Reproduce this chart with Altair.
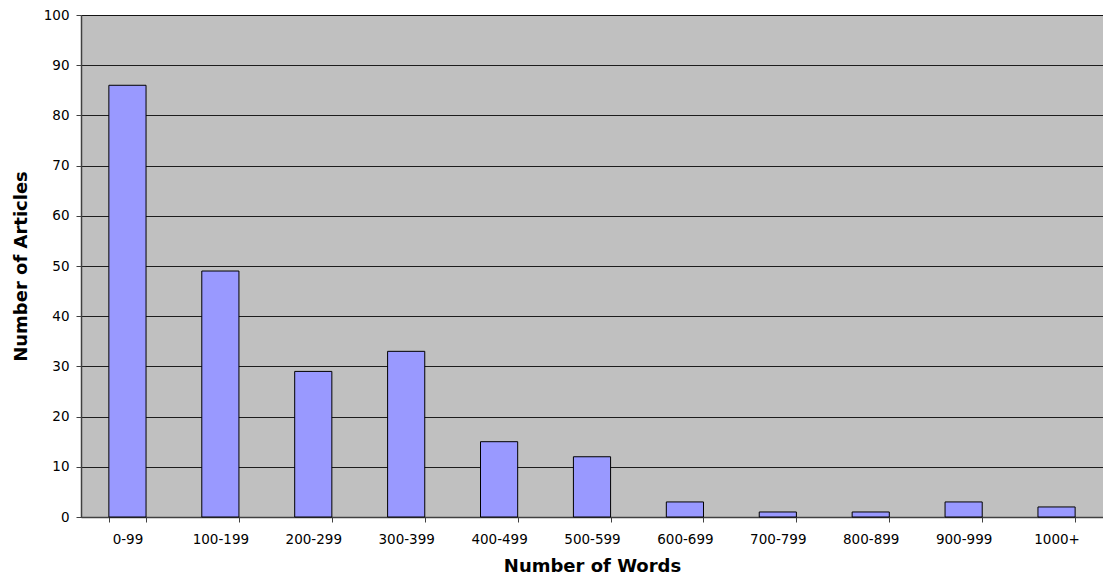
import altair as alt
import pandas as pd

categories = ["0-99", "100-199", "200-299", "300-399", "400-499", "500-599",
              "600-699", "700-799", "800-899", "900-999", "1000+"]
articles = [86, 49, 29, 33, 15, 12, 3, 1, 1, 3, 2]

df = pd.DataFrame({"words": categories, "articles": articles})

FONT = "DejaVu Sans"

chart = alt.Chart(df).mark_bar(
    color="#9999FF", stroke="#000000", strokeWidth=1
).encode(
    x=alt.X("words:N", sort=categories, title="Number of Words",
            scale=alt.Scale(paddingInner=0.6, paddingOuter=0.3),
            axis=alt.Axis(labelAngle=0, tickBand="extent", grid=False,
                          labelFont=FONT, labelFontSize=13.5, labelColor="#000",
                          titleFont=FONT, titleFontSize=18, titleFontWeight="bold",
                          titleColor="#000", titlePadding=12, labelPadding=10,
                          domainColor="#404040", domainWidth=1.5,
                          tickColor="#404040", tickSize=5)),
    y=alt.Y("articles:Q", title="Number of Articles",
            scale=alt.Scale(domain=[0, 100], nice=False),
            axis=alt.Axis(values=list(range(0, 101, 10)), grid=True,
                          gridColor="#000000", gridOpacity=0.85, gridWidth=1,
                          labelFont=FONT, labelFontSize=13.5, labelColor="#000",
                          titleFont=FONT, titleFontSize=18, titleFontWeight="bold",
                          titleColor="#000", titlePadding=13, labelPadding=7,
                          domainColor="#404040", domainWidth=1.5,
                          tickColor="#404040", tickSize=5)),
).properties(
    width=1022, height=502,
    autosize=alt.AutoSizeParams(type="none"),
    padding={"left": 73, "top": 7, "right": 0, "bottom": 58},
).configure_view(
    fill="#C0C0C0", stroke="#808080", strokeWidth=1
)

chart.save("out.html", embed_options={"renderer": "svg", "actions": False})
